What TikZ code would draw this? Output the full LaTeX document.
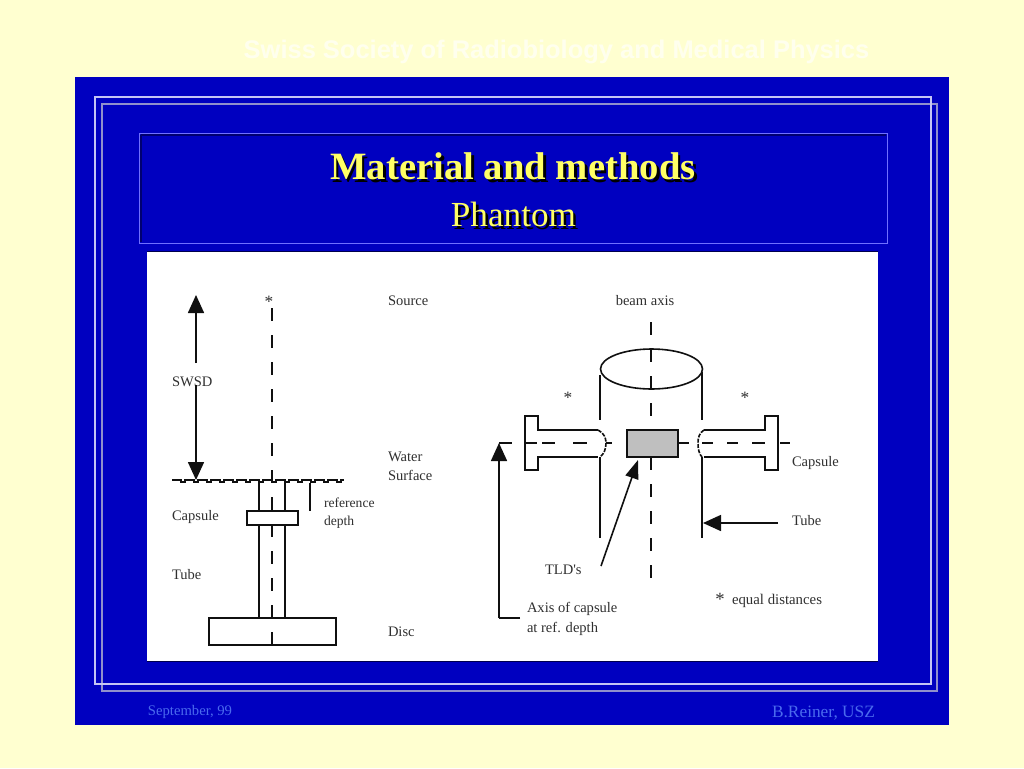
\documentclass[tikz,border=0pt]{standalone}
\usepackage{fontspec}
\setmainfont{Liberation Serif}
\setsansfont{Liberation Sans}
\newfontfamily\plainserif{Liberation Serif}
\usetikzlibrary{arrows.meta,shapes.geometric}
\definecolor{pagebg}{HTML}{FFFFD0}
\definecolor{headtxt}{HTML}{FFFFEE}
\definecolor{slideblue}{HTML}{0000C0}
\definecolor{frameA}{HTML}{C4C4F4}
\definecolor{frameB}{HTML}{9090CC}
\definecolor{boxline}{HTML}{7070FF}
\definecolor{darkedge}{HTML}{000070}
\definecolor{foot}{HTML}{4A6AEE}
\definecolor{titley}{HTML}{FFFF66}
\definecolor{ink}{HTML}{101010}
\definecolor{lab}{HTML}{303030}
\newcommand{\dropshadowtext}[1]{\rlap{\kern1.9pt\raisebox{-1.9pt}{\color{black}#1}}#1}
\tikzset{
  every node/.style={inner sep=0pt,outer sep=0pt},
  lbl/.style={anchor=west,text=lab,yshift=-0.6pt,font=\fontsize{10.9}{12}\selectfont},
  lblc/.style={anchor=center,text=lab,yshift=-0.6pt,font=\fontsize{10.9}{12}\selectfont},
  ln/.style={draw=ink,line width=1.2pt},
  thin ln/.style={draw=ink,line width=1pt},
  axis/.style={draw=ink,line width=1.2pt,dash pattern=on 9.9pt off 10.35pt},
  tip/.style={-{Triangle[length=13.5pt,width=12pt]}},
  tipsmall/.style={-{Triangle[length=14pt,width=10pt]}},
}
\begin{document}
\begin{tikzpicture}[x=0.75pt,y=-0.75pt]
\useasboundingbox (0,0) rectangle (1024,768);
\fill[pagebg] (0,0) rectangle (1024,768);
\node[text=headtxt,font=\sffamily\bfseries\fontsize{19.1}{22}\selectfont] (head) at (556.5,52) {Swiss Society of Radiobiology and Medical Physics};
% slide
\fill[slideblue] (75,77) rectangle (949,725);
\draw[frameB,line width=0.9pt] (102,104) rectangle (937,691);
\draw[frameA,line width=0.9pt] (95,97) rectangle (931,684);
\draw[darkedge,line width=0.9pt] (141,135) -- (141,242) (141,135) -- (886,135);
\draw[boxline,line width=0.75pt] (139,133) rectangle (887,243);
\fill[black!70!blue] (147,251) rectangle (878,662);
\fill[white] (147,252) rectangle (878,661);
% title
\node[text=titley,font=\bfseries\fontsize{29}{32}\selectfont] (t1) at (513,168) {\dropshadowtext{Material and methods}};
\node[text=titley,font=\fontsize{26.4}{30}\selectfont] (t2) at (513.5,216) {\dropshadowtext{Phantom}};
\node[text=foot,font=\fontsize{11}{12}\selectfont] (f1) at (190,711.5) {September, 99};
\node[text=foot,font=\fontsize{13}{14}\selectfont] (f2) at (823.5,713) {B.Reiner, USZ};
% ---- left diagram
\node[lblc,font=\fontsize{13}{14}\selectfont] (star0) at (269,301) {*};
\node[lbl] (src) at (388,300) {Source};
\node[lbl] (swsd) at (172,381) {SWSD};
\node[lbl] (w1) at (388,456) {Water};
\node[lbl] (w2) at (388,475) {Surface};
\node[lbl] (capl) at (172,516) {Capsule};
\node[lbl] (tubl) at (172,574) {Tube};
\node[lbl] (disl) at (388,631) {Disc};
\node[lbl,font=\fontsize{10.2}{11}\selectfont] (r1) at (324,502) {reference};
\node[lbl,font=\fontsize{10.2}{11}\selectfont] (r2) at (324,521) {depth};
\coordinate (axT) at (272,308);
\coordinate (axB) at (272,645);
\coordinate (wsa) at (196,480);
\coordinate (sw1) at (196,363);
\coordinate (swT) at (196,295);
\coordinate (sw2) at (196,385);
\draw[ln,tip] (sw1) -- (swT);
\draw[ln,tip] (sw2) -- (wsa);
% water surface
\draw[thin ln] (172,480)
  \foreach \i in {0,...,12}{ -- ++(9,0) -- ++(0,2) -- ++(4,0) -- ++(0,-2)} -- (344,480);
\node[draw=ink,line width=1.2pt,minimum width=95pt,minimum height=20.25pt] (disc) at (272.5,631.5) {};
\draw[axis] (axT) -- (axB);
\node[draw=ink,fill=white,line width=1.2pt,minimum width=38.25pt,minimum height=10.5pt] (cap) at (272.5,518) {};
\coordinate (tA) at (259,482); \coordinate (tB) at (285,482);
\draw[ln] (tA) -- (259,511); \draw[ln] (tB) -- (285,511);
\draw[ln] (259,525) -- (259,618); \draw[ln] (285,525) -- (285,618);
\coordinate (rd1) at (310,483); \coordinate (rd2) at (310,511);
\draw[ln] (rd1) -- (rd2);
% ---- right diagram
\node[lblc] (beam) at (645,300) {beam axis};
\node[draw=ink,line width=1.2pt,ellipse,minimum width=76.5pt,minimum height=30pt] (ell) at (651.5,369) {};
\draw[axis] (651,322) -- (651,578);
\draw[ln] (600,375) -- (600,420);
\draw[ln] (702,372) -- (702,420);
\draw[ln] (600,457) -- (600,538);
\draw[ln] (702,457) -- (702,538);
\node[lblc,font=\fontsize{13}{14}\selectfont] (s1) at (568,397) {*};
\node[lblc,font=\fontsize{13}{14}\selectfont] (s2) at (745,397) {*};
% capsules
\draw[ln] (598,430) -- (538,430) -- (538,416) -- (525,416) -- (525,470) -- (538,470) -- (538,457) -- (598,457);
\draw[ln] (704,430) -- (765,430) -- (765,416) -- (778,416) -- (778,470) -- (765,470) -- (765,457) -- (704,457);
\draw[ln,dash pattern=on 3pt off 1pt] (598,430) .. controls (604,433) and (606,438) .. (606,443) .. controls (606,449) and (604,454) .. (600,457);
\draw[ln,dash pattern=on 3pt off 1pt] (704,430) .. controls (699,433) and (698,438) .. (698,443) .. controls (698,449) and (699,454) .. (702,457);
% horizontal axes
\draw[ln] (525,443) -- (537,443) (542,443) -- (555,443) (573,443) -- (587,443) (606,443) -- (612,443) (678,443) -- (689,443) (702,443) -- (713,443) (727,443) -- (738,443) (752,443) -- (765,443) (780,443) -- (790,443);
\node[draw=ink,line width=1.2pt,fill=gray!50!white,minimum width=38.25pt,minimum height=20.25pt] (tld) at (652.5,443.5) {};
% arrows
\node[lbl] (tldl) at (545,569) {\plainserif TLD's};
\coordinate (tl0) at (601,566);
\coordinate (tl1) at (638,460);
\draw[ln,tipsmall] (tl0) -- (tl1);
\coordinate (tb0) at (778,523);
\coordinate (tb1) at (703,523);
\draw[ln,tip] (tb0) -- (tb1);
\coordinate (ar0) at (520,618);
\coordinate (ar1) at (499,618);
\draw[ln] (ar0) -- (ar1);
\coordinate (ar2) at (499,443);
\coordinate (ar3) at (512,443);
\draw[ln,tip] (ar1) -- (ar2);
\draw[ln] (ar2) -- (ar3);
\node[lbl] (capr) at (792,462) {Capsule};
\node[lbl] (tubr) at (792,520) {Tube};
\node[lbl] (ax1) at (527,608) {Axis of capsule};
\node[lbl] (ax2) at (527,628) {at ref. depth};
\node[lblc,font=\fontsize{14}{14}\selectfont] (s3) at (720,599) {*};
\node[lbl,font=\fontsize{11.1}{12}\selectfont] (eq) at (732,600) {equal distances};
\end{tikzpicture}
\end{document}
